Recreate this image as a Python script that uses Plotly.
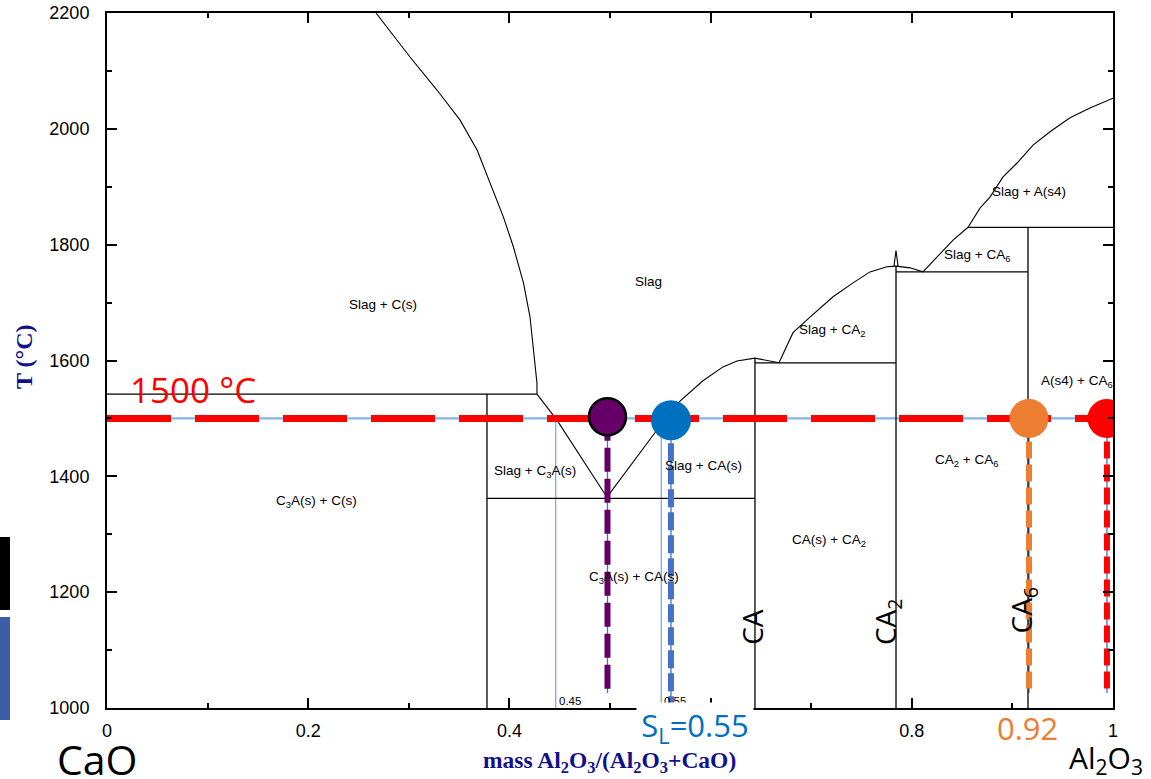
import plotly.graph_objects as go

# ---------------- data (mass fraction Al2O3, temperature in °C) ----------------
# liquidus branches
liq_c_x = [0.2674, 0.3012, 0.328, 0.351, 0.368, 0.381, 0.394, 0.404, 0.414, 0.4205, 0.4274, 0.4274]
liq_c_t = [2200, 2124, 2067, 2015, 1963, 1906, 1848, 1796, 1734, 1675, 1561, 1542]
liq_c3a_x = [0.4274, 0.4473, 0.4970]
liq_c3a_t = [1542, 1497, 1364]
liq_ca_x = [0.4970, 0.5199, 0.5467, 0.5696, 0.5924, 0.6123, 0.6262, 0.6441, 0.6680]
liq_ca_t = [1364, 1418, 1480, 1530, 1565, 1589, 1599, 1604, 1596]
liq_ca2_x = [0.6680, 0.6819, 0.6988, 0.7217, 0.7416, 0.7584, 0.7753, 0.7843]
liq_ca2_t = [1596, 1648, 1675, 1710, 1734, 1753, 1762, 1763]
spike_x = [0.7823, 0.7843, 0.7863]
spike_t = [1763, 1790, 1763]
liq_ca6_x = [0.7843, 0.7982, 0.8111, 0.8250, 0.8410, 0.8559]
liq_ca6_t = [1763, 1760, 1753, 1779, 1808, 1830]
liq_a_x = [0.8559, 0.8678, 0.8777, 0.8907, 0.9046, 0.9205, 0.9374, 0.9573, 0.9771, 1.0]
liq_a_t = [1830, 1863, 1882, 1917, 1941, 1972, 1995, 2019, 2036, 2053]

# invariant (horizontal) lines
inv_x0 = [0.0, 0.3777, 0.6441, 0.7843, 0.8559]
inv_x1 = [0.4274, 0.6441, 0.7843, 0.9155, 1.0]
inv_t = [1542, 1362, 1596, 1753, 1830]

# stoichiometric compounds (vertical lines)
cmp_x = [0.3777, 0.6441, 0.7843, 0.9155]
cmp_top = [1542, 1604, 1763, 1830]
t_min = 1000

# isotherm and marked compositions
t_iso = 1500
iso_end = 0.994
ref_x = [0.446, 0.551]
ref_labels = ["0.45", "0.55"]
mark_x = [0.4975, 0.5606, 0.9165, 0.994]
mark_t = [1503, 1497, 1500, 1500]
mark_bottom = [1026, 1003, 1026, 1026]
mark_colors = ["#660066", "#4472C4", "#ED7D31", "#FF0000"]
dot_colors = ["#660066", "#0070C0", "#ED7D31", "#FF0000"]
dot_sizes = [37, 40, 39, 39]
mark_dash = ["24px,7px", "18px,5px", "17px,6px", "17px,6px"]

x_ticks = [0, 0.2, 0.4, 0.6, 0.8, 1]
x_ticktext = ["0", "0.2", "0.4", "0.6", "0.8", "1"]
y_ticks = [1000, 1200, 1400, 1600, 1800, 2000, 2200]

# region labels
reg_text = ["Slag + C(s)", "Slag", "Slag + C<sub>3</sub>A(s)", "Slag + CA(s)",
            "C<sub>3</sub>A(s) + C(s)", "C<sub>3</sub>A(s) + CA(s)", "CA(s) + CA<sub>2</sub>",
            "Slag + CA<sub>2</sub>", "Slag + CA<sub>6</sub>", "Slag + A(s4)",
            "A(s4) + CA<sub>6</sub>", "CA<sub>2</sub> + CA<sub>6</sub>"]
reg_x = [0.2744, 0.5378, 0.4254, 0.5934, 0.2087, 0.5239, 0.7177, 0.7207, 0.8648, 0.9165, 0.9642, 0.8539]
reg_t = [1697, 1737, 1408, 1419, 1356, 1226, 1290, 1651, 1782, 1891, 1564, 1428]

cmp_text = ["CA", "CA<sub>2</sub>", "CA<sub>6</sub>"]
cmp_lx = [0.6411, 0.7753, 0.9105]
cmp_lt = [1140, 1150, 1170]


def px(x):
    return (x - 107) / 1006


def py(y):
    return (708 - y) / 695


fig = go.Figure()

# thin light-blue construction lines
fig.add_trace(go.Scatter(x=[0, iso_end], y=[t_iso, t_iso], mode="lines",
                         line=dict(color="#86B3E6", width=2.2), hoverinfo="skip"))
for rx in ref_x:
    fig.add_trace(go.Scatter(x=[rx, rx], y=[t_iso, t_min], mode="lines",
                             line=dict(color="#7FB0EE", width=1.4), hoverinfo="skip"))
for mx, mt, mb in zip(mark_x, mark_t, mark_bottom):
    fig.add_trace(go.Scatter(x=[mx, mx], y=[mt, mb], mode="lines",
                             line=dict(color="#4472C4", width=1.3), hoverinfo="skip"))

# phase boundaries
blk = dict(color="black", width=1.1)
for xs, ts in [(liq_c_x, liq_c_t), (liq_c3a_x, liq_c3a_t), (liq_ca_x, liq_ca_t),
               (liq_ca2_x, liq_ca2_t), (spike_x, spike_t), (liq_ca6_x, liq_ca6_t),
               (liq_a_x, liq_a_t)]:
    fig.add_trace(go.Scatter(x=xs, y=ts, mode="lines", line=blk, hoverinfo="skip"))
for x0, x1, t in zip(inv_x0, inv_x1, inv_t):
    fig.add_trace(go.Scatter(x=[x0, x1], y=[t, t], mode="lines",
                             line=dict(color="black", width=1.3), hoverinfo="skip"))
for cx, ct in zip(cmp_x, cmp_top):
    fig.add_trace(go.Scatter(x=[cx, cx], y=[ct, t_min], mode="lines",
                             line=dict(color="black", width=1.3), hoverinfo="skip"))

# red isotherm
fig.add_trace(go.Scatter(x=[0, iso_end], y=[t_iso, t_iso], mode="lines",
                         line=dict(color="#FF0000", width=7, dash="64px,24px"), hoverinfo="skip"))
# vertical dashed markers
for mx, mt, mb, c, d in zip(mark_x, mark_t, mark_bottom, mark_colors, mark_dash):
    fig.add_trace(go.Scatter(x=[mx, mx], y=[mt, mb], mode="lines",
                             line=dict(color=c, width=6, dash=d), hoverinfo="skip"))
# dots
for i, (mx, mt) in enumerate(zip(mark_x, mark_t)):
    fig.add_trace(go.Scatter(x=[mx], y=[mt], mode="markers",
                             marker=dict(color=dot_colors[i], size=dot_sizes[i],
                                         line=dict(color="black", width=2.5 if i == 0 else 0)),
                             hoverinfo="skip"))

ann = []
for t, x, y in zip(reg_text, reg_x, reg_t):
    ann.append(dict(x=x, y=y, xref="x", yref="y", text=t, showarrow=False,
                    font=dict(family="Liberation Sans, Arial", size=13.5, color="black")))
for t, x, y in zip(cmp_text, cmp_lx, cmp_lt):
    ann.append(dict(x=x, y=y, xref="x", yref="y", text=t, showarrow=False, textangle=-90,
                    font=dict(family="Open Sans", size=28, color="black")))
for t, x in zip(ref_labels, ref_x):
    ann.append(dict(x=x, y=t_min, xref="x", yref="y", text=t, showarrow=False,
                    xanchor="left", yanchor="bottom", xshift=1, yshift=-1,
                    font=dict(family="Liberation Sans, Arial", size=11.5, color="black")))


def pann(x, y, text, size, color, family="Open Sans", **kw):
    d = dict(x=px(x), y=py(y), xref="paper", yref="paper", text=text, showarrow=False,
             xanchor="center", yanchor="middle",
             font=dict(family=family, size=size, color=color))
    d.update(kw)
    return d


ann += [
    dict(x=0.0855, y=1550, xref="x", yref="y", text="1500 °C", showarrow=False,
         font=dict(family="Open Sans", size=35, color="#FF0000")),
    pann(97, 759, "CaO", 41, "black"),
    pann(1106, 759, "Al<sub>2</sub>O<sub>3</sub>", 30, "black"),
    pann(1027, 728, "0.92", 31, "#ED7D31"),
    pann(695, 727, "S<sub>L</sub>=0.55", 31, "#0070C0", bgcolor="white", width=114, height=46,
         valign="middle"),
    pann(609, 762, "<b>mass Al<sub>2</sub>O<sub>3</sub>/(Al<sub>2</sub>O<sub>3</sub>+CaO)</b>", 23.5,
         "#10108A", family="Liberation Serif, Times New Roman"),
    pann(24, 357, "<b>T (°C)</b>", 24, "#10108A", family="Liberation Serif, Times New Roman",
         textangle=-90),
]

shapes = [
    dict(type="rect", xref="paper", yref="paper", x0=px(0), x1=px(10),
         y0=py(610), y1=py(537), fillcolor="black", line=dict(width=0), layer="above"),
    dict(type="rect", xref="paper", yref="paper", x0=px(0), x1=px(10),
         y0=py(720), y1=py(617), fillcolor="#3C5EA6", line=dict(width=0), layer="above"),
]

axis_common = dict(showgrid=False, zeroline=False, showline=True, linecolor="black", linewidth=2,
                   mirror="ticks", ticks="inside", ticklen=10, tickwidth=2, tickcolor="black",
                   automargin=False,
                   tickfont=dict(family="Liberation Sans, Arial", size=18, color="black"))

fig.update_layout(
    width=1151, height=779, autosize=False,
    margin=dict(l=107, r=38, t=13, b=71),
    paper_bgcolor="white", plot_bgcolor="white",
    showlegend=False,
    xaxis=dict(range=[0, 1], tickvals=x_ticks, ticktext=x_ticktext,
               minor=dict(ticks="inside", ticklen=5, tickwidth=1.5, tickcolor="black", dtick=0.1, tick0=0),
               ticklabelstandoff=5, **axis_common),
    yaxis=dict(range=[1000, 2200], tickvals=y_ticks,
               minor=dict(ticks="inside", ticklen=5, tickwidth=1.5, tickcolor="black", dtick=100, tick0=1000),
               ticklabelstandoff=12, **axis_common),
    annotations=ann, shapes=shapes,
)

fig.write_html("out.html")
